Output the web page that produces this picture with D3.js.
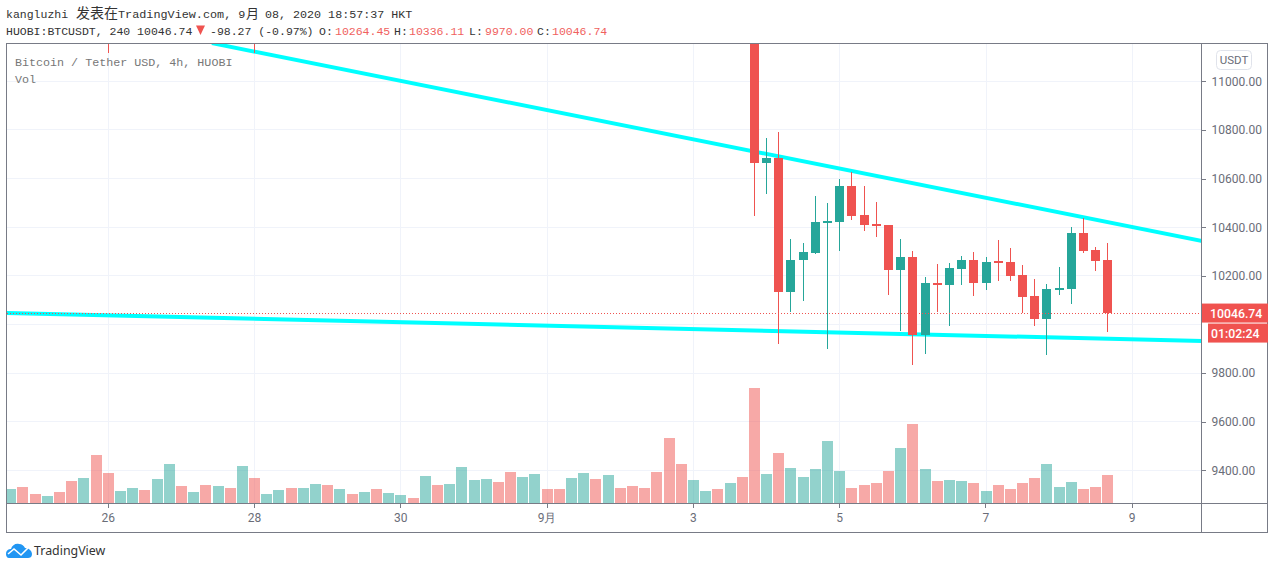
<!DOCTYPE html>
<html>
<head>
    <meta charset="utf-8">
    <title>BTCUSDT 4h</title>
    <style>
        html, body { margin: 0; padding: 0; background: #fff; }
        svg { display: block; }
        text { font-family: Roboto, sans-serif; }
        .head { font-family: "Liberation Mono", "Noto Sans CJK SC", monospace; font-size: 11.5px; fill: #333; }
        .legend { font-family: "Liberation Mono", monospace; font-size: 11.7px; fill: #777; }
        .axis text { font-size: 12px; fill: #6a6d78; }
        .axis path, .axis line { stroke: #787b86; }
    </style>
</head>
<body>
<div id="chart"></div>
<script src="https://cdnjs.cloudflare.com/ajax/libs/d3/7.8.5/d3.min.js"></script>
<script type="text/javascript">

// candles, bar number counted from the 26 tick (4h bars, 6 per day)
var candleBars = [0, 12, 53, 54, 55, 56, 57, 58, 59, 60, 61, 62, 63, 64, 65, 66, 67, 68, 69, 70, 71, 72, 73, 74, 75, 76, 77, 78, 79, 80, 81, 82];
var opens  = [11420, 11400, 11250, 10664, 10685, 10135, 10265, 10294, 10417, 10421, 10570, 10450, 10413, 10409, 10224, 10278, 9957, 10171, 10163, 10229, 10266, 10171, 10262, 10257, 10204, 10118, 10023, 10142, 10146, 10377, 10307, 10264.45];
var highs  = [11480, 11470, 11300, 10767, 10792, 10352, 10335, 10528, 10500, 10598, 10627, 10570, 10504, 10409, 10352, 10302, 10195, 10249, 10253, 10282, 10299, 10278, 10348, 10315, 10245, 10187, 10167, 10237, 10401, 10438, 10319, 10336.11];
var lows   = [11116, 11116, 10447, 10538, 9921, 10053, 10098, 10291, 9900, 10304, 10430, 10384, 10360, 10121, 9973, 9833, 9879, 10052, 9994, 10163, 10118, 10142, 10179, 10179, 10048, 9994, 9875, 10122, 10085, 10294, 10220, 9970];
var closes = [11350, 11330, 10664, 10685, 10135, 10265, 10298, 10421, 10424, 10570, 10446, 10409, 10405, 10224, 10278, 9957, 10171, 10163, 10233, 10266, 10171, 10257, 10253, 10200, 10113, 10023, 10146, 10150, 10377, 10303, 10262, 10046.74];

// volume bars start 8 bars left of the 26 tick, unit is a guess
var firstVolumeBar = -8;
var volumes = [14.3, 16.3, 9.3, 7.3, 11.3, 22.3, 25.3, 48.3, 30.3, 12.3, 15.3, 13.3, 24.3, 39.3, 17.3, 11.3, 18.3, 17.3, 15.3, 37.3, 25.3, 9.3, 13.3, 15.3, 15.3, 19.3, 18.3, 14.3, 9.3, 11.3, 14.3, 10.3, 8.3, 5.3,
    27.3, 18.3, 19.3, 36.3, 23.3, 24.3, 21.3, 31.3, 26.3, 29.3, 14.3, 14.3, 25.3, 30.3, 24.3, 28.3, 15.3, 17.3, 15.3, 31.3, 65.3, 39.3, 23.3, 12.3, 14.3, 20.3, 26.3, 115.3, 29.3, 50.3, 35.3, 26.3, 34.3, 62.3, 32.3,
    15.3, 18.3, 20.3, 32.3, 55.3, 79.3, 34.3, 22.3, 23.3, 22.3, 20.3, 12.3, 18.3, 14.3, 20.3, 25.3, 39.3, 16.3, 21.3, 14.3, 16.3, 28.3];
var volumeSides = "grrgrrgrrggrggrgrgrgrggrggrgrgrggr" + "grggggrrggrrggrgrrrrrrggrgrrgrggggg" + "rrrrgrgrggrgrrrrgggrrr";

// axis ticks
var priceTicks = [9400, 9600, 9800, 10000, 10200, 10400, 10600, 10800, 11000];
var timeTickBars = [0, 12, 24, 36, 48, 60, 72, 84];
var timeTickLabels = ["26", "28", "30", "9月", "3", "5", "7", "9"];

// trend lines as [bar, price]
var upperTrend = [[8.5, 11157], [89.75, 10343]];
var lowerTrend = [[-8.37, 10047], [89.75, 9932]];

var lastPrice = 10046.74;
var countdown = "01:02:24";

var width = 1274, height = 569,
    plot = {left: 6.5, right: 1201.5, top: 43.5, bottom: 503.5, outer: 532.5, edge: 1267.5},
    green = "#26a69a", red = "#ef5350", gridColor = "#f0f3fa", frameColor = "#787b86";

var svg = d3.select("#chart").append("svg")
    .attr("width", width)
    .attr("height", height);

var x = d3.scaleLinear().domain([0, 84]).range([108.3, 1132.3]);
var y = d3.scaleLinear().domain([9400, 11000]).range([470.3, 81.3]);
var yVol = d3.scaleLinear().domain([0, 120]).range([503.3, 383.3]);

svg.append("clipPath").attr("id", "plot-clip")
    .append("rect")
    .attr("x", plot.left)
    .attr("y", plot.top)
    .attr("width", plot.right - plot.left)
    .attr("height", plot.bottom - plot.top);

// grid
var grid = svg.append("g").attr("shape-rendering", "crispEdges");
grid.selectAll(".h").data(priceTicks).enter().append("line")
    .attr("x1", plot.left).attr("x2", plot.right)
    .attr("y1", function(d){ return Math.floor(y(d)) + .5; })
    .attr("y2", function(d){ return Math.floor(y(d)) + .5; })
    .attr("stroke", gridColor);
grid.selectAll(".v").data(timeTickBars).enter().append("line")
    .attr("y1", plot.top).attr("y2", plot.bottom)
    .attr("x1", function(d){ return Math.floor(x(d)) + .5; })
    .attr("x2", function(d){ return Math.floor(x(d)) + .5; })
    .attr("stroke", gridColor);

var chart = svg.append("g").attr("clip-path", "url(#plot-clip)");

// volume
chart.append("g").attr("shape-rendering", "crispEdges")
    .selectAll("rect").data(volumes).enter().append("rect")
    .attr("x", function(d, i){ return Math.round(x(i + firstVolumeBar) - 5.5); })
    .attr("width", 11)
    .attr("y", function(d){ return yVol(d); })
    .attr("height", function(d){ return yVol(0) - yVol(d); })
    .attr("fill", function(d, i){ return volumeSides[i] == "g" ? green : red; })
    .attr("opacity", .5);

// trend lines go under the candles
var trendLine = d3.line()
    .x(function(d){ return x(d[0]); })
    .y(function(d){ return y(d[1]); });
chart.selectAll(".trend").data([upperTrend, lowerTrend]).enter().append("path")
    .attr("d", trendLine)
    .attr("fill", "none")
    .attr("stroke", "#00ffff")
    .attr("stroke-width", 4);

// candles
var candles = candleBars.map(function(b, i){
    return {bar: b, o: opens[i], h: highs[i], l: lows[i], c: closes[i]};
});
function candleColor(d){ return d.c >= d.o ? green : red; }

var candle = chart.append("g").attr("shape-rendering", "crispEdges")
    .selectAll("g").data(candles).enter().append("g");
candle.append("line")
    .attr("x1", function(d){ return Math.floor(x(d.bar)) + .5; })
    .attr("x2", function(d){ return Math.floor(x(d.bar)) + .5; })
    .attr("y1", function(d){ return y(d.h); })
    .attr("y2", function(d){ return y(d.l); })
    .attr("stroke", candleColor);
candle.append("rect")
    .attr("x", function(d){ return Math.floor(x(d.bar)) - 4; })
    .attr("width", 9)
    .attr("y", function(d){ return y(Math.max(d.o, d.c)); })
    .attr("height", function(d){ return Math.max(2, Math.abs(y(d.o) - y(d.c))); })
    .attr("fill", candleColor);

// last price dotted line, snapped so the dots stay solid
chart.append("line")
    .attr("x1", plot.left).attr("x2", plot.right)
    .attr("y1", Math.floor(y(lastPrice)) + .5).attr("y2", Math.floor(y(lastPrice)) + .5)
    .attr("stroke", red)
    .attr("shape-rendering", "crispEdges")
    .attr("stroke-dasharray", "1,2");

// axes
var yAxis = d3.axisRight(y)
    .tickValues(priceTicks.filter(function(d){ return d != 10000; }))
    .tickFormat(d3.format(".2f"))
    .tickSize(4).tickPadding(6);
svg.append("g").attr("class", "axis")
    .attr("transform", "translate(" + plot.right + ",0)")
    .call(yAxis)
    .call(function(g){ g.select(".domain").remove(); })
    .selectAll("line").attr("shape-rendering", "crispEdges");

var xAxis = d3.axisBottom(x)
    .tickValues(timeTickBars)
    .tickFormat(function(d, i){ return timeTickLabels[i]; })
    .tickSize(4).tickPadding(6);
svg.append("g").attr("class", "axis")
    .attr("transform", "translate(-0.6," + plot.bottom + ")")
    .call(xAxis)
    .call(function(g){ g.select(".domain").remove(); })
    .selectAll("line").attr("shape-rendering", "crispEdges");

// frame
var frame = svg.append("g").attr("stroke", frameColor).attr("fill", "none").attr("shape-rendering", "crispEdges");
frame.append("rect")
    .attr("x", plot.left).attr("y", plot.top)
    .attr("width", plot.edge - plot.left)
    .attr("height", plot.outer - plot.top);
frame.append("line").attr("x1", plot.right).attr("x2", plot.right).attr("y1", plot.top).attr("y2", plot.outer);
frame.append("line").attr("x1", plot.left).attr("x2", plot.edge).attr("y1", plot.bottom).attr("y2", plot.bottom);

// USDT button
svg.append("rect")
    .attr("x", 1216.5).attr("y", 50.5).attr("width", 35).attr("height", 19).attr("rx", 4)
    .attr("fill", "#fff").attr("stroke", "#e0e3eb");
svg.append("text")
    .attr("x", 1234).attr("y", 64)
    .attr("text-anchor", "middle")
    .attr("font-size", 11.5).attr("fill", "#6a6d78")
    .text("USDT");

// last price tags
var tagY = y(lastPrice);
svg.append("rect")
    .attr("x", 1202).attr("y", tagY - 9.5).attr("width", 66).attr("height", 19)
    .attr("fill", "#f0524f");
svg.append("rect")
    .attr("x", 1208).attr("y", tagY + 10.5).attr("width", 60).attr("height", 19)
    .attr("fill", "#f0524f");
svg.append("text")
    .attr("x", 1210).attr("y", tagY + 4.5)
    .attr("font-size", 12.3).attr("font-weight", 500).attr("fill", "#fff")
    .text(d3.format(".2f")(lastPrice));
svg.append("text")
    .attr("x", 1211).attr("y", tagY + 24.5)
    .attr("font-size", 12.3).attr("font-weight", 500).attr("fill", "#fff")
    .text(countdown);

// header, pieces placed one by one because the CJK glyphs are bigger
var titleBits = [
    ["kangluzhi", 6, 11.5],
    ["发表在", 76, 14],
    ["TradingView.com, 9", 118, 11.8],
    ["月", 246, 13],
    ["08, 2020 18:57:37 HKT", 265, 11.7]
];
svg.selectAll(".title-bit").data(titleBits).enter().append("text")
    .attr("class", "head")
    .attr("x", function(d){ return d[1]; })
    .attr("y", 18)
    .style("font-size", function(d){ return d[2] + "px"; })
    .text(function(d){ return d[0]; });

var headerBits = [
    ["HUOBI:BTCUSDT, 240 10046.74", 6, false],
    ["-98.27 (-0.97%)", 210, false],
    ["O:", 319, false], ["10264.45", 335, true],
    ["H:", 394, false], ["10336.11", 409, true],
    ["L:", 469, false], ["9970.00", 485, true],
    ["C:", 537, false], ["10046.74", 552, true]
];
svg.selectAll(".bit").data(headerBits).enter().append("text")
    .attr("class", "head")
    .attr("x", function(d){ return d[1]; })
    .attr("y", 35)
    .style("fill", function(d){ return d[2] ? "#f0615e" : "#333"; })
    .text(function(d){ return d[0]; });

svg.append("path")
    .attr("d", "M196,25.5H205L200.5,35Z")
    .attr("fill", red);

svg.append("text").attr("class", "legend").attr("x", 15).attr("y", 66).text("Bitcoin / Tether USD, 4h, HUOBI");
svg.append("text").attr("class", "legend").attr("x", 15).attr("y", 83).text("Vol");

// logo
svg.append("path")
    .attr("d", "M6,554C6,550 9,549 11,549C12,545 16,543 19,544C22,544 24,546 25,548C29,548 32,551 32,554C32,557 30,558 28,558H9C7,558 6,556 6,554Z")
    .attr("fill", "#2196f3");
svg.append("path")
    .attr("d", "M8,554L14,549L21,555L28,548")
    .attr("fill", "none").attr("stroke", "#fff").attr("stroke-width", 1.6);
svg.append("text")
    .attr("x", 34).attr("y", 555)
    .style("font-family", "'Noto Sans', sans-serif")
    .attr("font-size", 12.4).attr("fill", "#333")
    .text("TradingView");

</script>
</body>
</html>
